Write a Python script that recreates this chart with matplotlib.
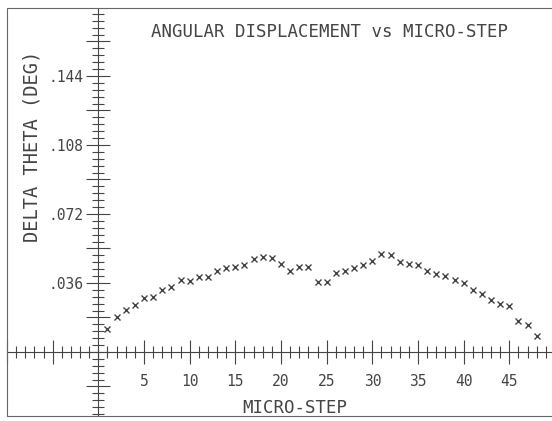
import matplotlib
matplotlib.use('Agg')
import matplotlib.pyplot as plt
from matplotlib.ticker import MultipleLocator, FixedLocator, FuncFormatter
from matplotlib.patches import Rectangle

# micro-step index and measured angular displacement (deg)
steps = list(range(1, 49))
delta_theta = [
    0.0120, 0.0184, 0.0219, 0.0245, 0.0283, 0.0287, 0.0324, 0.0338,
    0.0374, 0.0372, 0.0391, 0.0391, 0.0423, 0.0440, 0.0442, 0.0454,
    0.0484, 0.0497, 0.0489, 0.0459, 0.0424, 0.0444, 0.0444, 0.0367,
    0.0367, 0.0414, 0.0423, 0.0440, 0.0456, 0.0476, 0.0511, 0.0505,
    0.0470, 0.0461, 0.0454, 0.0424, 0.0409, 0.0395, 0.0374, 0.0358,
    0.0322, 0.0301, 0.0271, 0.0249, 0.0242, 0.0163, 0.0139, 0.0082,
]
xtick_vals = [5, 10, 15, 20, 25, 30, 35, 40, 45]
ytick_vals = [0.036, 0.072, 0.108, 0.144]
ytick_labels = ['.036', '.072', '.108', '.144']

INK = '#444444'
W, H = 552, 421
plt.rcParams['font.family'] = ['DejaVu Sans Mono']

fig = plt.figure(figsize=(W / 100, H / 100), dpi=100)
fig.patch.set_facecolor('white')

# axes box in pixels: y axis at x=98, x axis at y=352
left_px, right_px, top_px, bot_px = 7, 555, 7.5, 416
ax = fig.add_axes([left_px / W, 1 - bot_px / H,
                   (right_px - left_px) / W, (bot_px - top_px) / H])
ax.set_xlim(-10, 50)
ax.set_ylim(-0.0334, 0.1797)
ax.patch.set_alpha(0)

for side in ['top', 'right']:
    ax.spines[side].set_visible(False)
ax.spines['left'].set_position(('data', 0))
ax.spines['bottom'].set_position(('data', 0))
for side in ['left', 'bottom']:
    ax.spines[side].set_color(INK)
    ax.spines[side].set_linewidth(0.8)

ax.plot(steps, delta_theta, ls='none', marker='x', ms=4, mew=1.0,
        color=INK, clip_on=False)

# x ticks: major every 5, minor every step
ax.xaxis.set_major_locator(FixedLocator([-10, -5] + xtick_vals))
ax.xaxis.set_minor_locator(MultipleLocator(1))
ax.xaxis.set_major_formatter(FuncFormatter(
    lambda v, p: str(int(round(v))) if round(v) in xtick_vals else ''))

# y ticks: long every .018, short every .0036
ax.yaxis.set_major_locator(MultipleLocator(0.018))
ax.yaxis.set_minor_locator(MultipleLocator(0.0036))
lab = dict(zip([round(v, 3) for v in ytick_vals], ytick_labels))
ax.yaxis.set_major_formatter(FuncFormatter(
    lambda v, p: lab.get(round(v, 3), '')))

ax.tick_params(which='major', direction='inout', length=17.5, width=0.8,
               color=INK, labelcolor=INK, labelsize=10.5)
ax.tick_params(which='minor', direction='inout', length=9, width=0.8,
               color=INK)
ax.tick_params(axis='x', which='major', pad=7)
ax.tick_params(axis='y', which='major', pad=2)

ax.set_ylabel('DELTA THETA (DEG)', fontsize=13.5, color=INK)
ax.yaxis.set_label_coords((31.7 - left_px) / (right_px - left_px),
                          (bot_px - 146.5) / (bot_px - top_px))
ax.yaxis.label.set_va('center')
ax.set_xlabel('MICRO-STEP', fontsize=12.5, color=INK)
ax.xaxis.set_label_coords((295 - left_px) / (right_px - left_px),
                          (bot_px - 408) / (bot_px - top_px))
ax.xaxis.label.set_va('center')

fig.text(329.5 / W, 1 - 31.7 / H, 'ANGULAR DISPLACEMENT vs MICRO-STEP',
         ha='center', va='center', fontsize=12.5, color=INK)

# plotter paper frame
fig.patches.append(Rectangle((left_px / W, 1 - bot_px / H),
                             (right_px + 20 - left_px) / W,
                             (bot_px - top_px) / H,
                             transform=fig.transFigure, fill=False,
                             ec='#666666', lw=0.8))

fig.savefig('out.png', dpi=100)
